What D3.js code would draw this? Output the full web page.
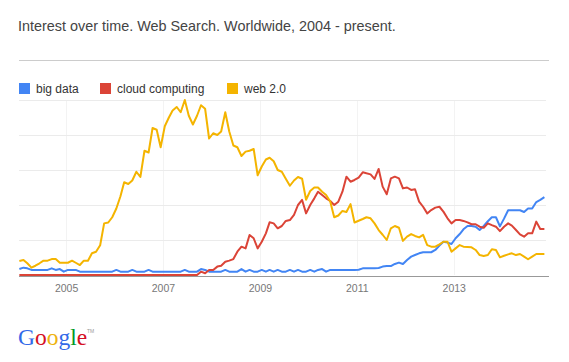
<!DOCTYPE html>
<html>
<head>
<meta charset="utf-8">
<script src="https://cdn.jsdelivr.net/npm/d3@7"></script>
<style>
body { margin: 0; background: #fff; }
svg { display: block; font-family: Arial, "Liberation Sans", sans-serif; }
</style>
</head>
<body>
<svg id="chart" width="569" height="362"></svg>
<script>
// monthly interest, Jan 2004 .. Nov 2014
const seriesNames = ["big data", "cloud computing", "web 2.0"];
const seriesColors = ["#4285f4", "#db4437", "#f4b400"];

const bigData = [
  3.4, 4.2, 3.8, 2.9, 2.9, 2.9, 2.9, 2.9, 3.8, 2.9, 3.4, 1.9, 2.9, 2.9, 2.9, 1.9,
  1.9, 1.9, 1.9, 1.9, 1.9, 1.9, 1.9, 1.9, 2.9, 1.9, 1.9, 1.9, 2.9, 1.9, 1.9, 1.9,
  2.9, 1.9, 1.9, 1.9, 1.9, 1.9, 1.9, 1.9, 1.9, 2.9, 1.9, 1.9, 1.9, 3.4, 2.9, 1.9,
  1.9, 1.9, 1.9, 2.9, 1.9, 1.9, 1.9, 3.4, 1.9, 2.9, 1.9, 1.9, 2.9, 1.9, 2.9, 1.9,
  2.9, 1.9, 1.9, 2.9, 1.9, 2.9, 1.9, 1.9, 2.9, 1.9, 2.9, 3.4, 1.9, 2.9, 2.9, 2.9,
  2.9, 2.9, 2.9, 2.9, 3, 3.8, 3.8, 3.8, 3.8, 4, 4.8, 5.1, 5.1, 6.3, 7.1, 6.3,
  8.6, 10.5, 11.4, 12.4, 13, 13, 13, 14.3, 16.8, 19, 18.5, 17.7, 21, 23.4, 26.1, 28,
  28, 27.6, 25.7, 28, 30.7, 33, 33, 27.8, 32.2, 37, 37, 37, 37, 36, 38, 38,
  41.7, 42.9, 44.5
];

const cloudComputing = [
  0, 0, 0, 0, 0, 0, 0, 0, 0, 0, 0, 0, 0, 0, 0, 0,
  0, 0, 0, 0, 0, 0, 0, 0, 0, 0, 0, 0, 0, 0, 0, 0,
  0, 0, 0, 0, 0, 0, 0, 0, 0, 0, 0, 0, 0, 1.9, 1, 2.9,
  2.9, 4.8, 5.3, 7.6, 8.2, 9.1, 13.3, 16.2, 15.2, 22.9, 21, 15.2, 19, 23.8, 30.1, 29.5,
  26.7, 28, 30.9, 31.4, 34.3, 40, 42.9, 35.2, 40, 43.8, 47.6, 45.7, 43.8, 42.3, 40, 41.9,
  47.6, 56.2, 53.3, 54.3, 55.6, 58.7, 58.1, 57.5, 54.9, 60.6, 50.5, 46.1, 55.2, 56.2, 55.2, 49.5,
  50, 48.6, 49, 41.9, 39, 35.2, 37.1, 38.5, 39, 36.2, 32.4, 29.5, 31.4, 31.4, 30.9, 30.1,
  29, 29, 27.6, 27, 29.5, 28.5, 27.6, 25.1, 27.6, 29.5, 28.2, 25.7, 23.2, 21.9, 23.8, 23.8,
  30.5, 26.3, 26.3
];

const web20 = [
  8, 8.6, 6.7, 4.2, 5.3, 6.7, 8.2, 8.2, 9.1, 9.1, 7, 7, 7, 8.2, 7, 5.7,
  8.2, 8.2, 12.4, 13.3, 17, 29.5, 30, 33, 38, 45, 53, 52, 54, 59, 56, 71,
  70, 84, 83, 73, 85, 90, 94, 96, 93, 100, 91, 86, 91, 97, 95, 78,
  81, 80, 82, 93, 82, 74, 73, 68, 70.5, 71, 72, 57, 62, 66, 67, 65,
  60, 59, 55, 51, 54, 56, 55, 43, 48, 50, 50, 47.6, 45.7, 42, 33, 34,
  36.6, 36, 40.5, 30, 31, 32, 33, 32.4, 29.5, 25.7, 23, 20, 26.7, 28, 27, 19.5,
  21.9, 23.4, 22.3, 21.5, 22.9, 17.1, 16.2, 16.2, 17.5, 19, 19, 13.3, 15.2, 17.1, 16.2, 16,
  15.8, 14.3, 11.4, 10.9, 11.4, 14.7, 14.3, 10.1, 11, 11.8, 12.4, 11.4, 12, 10.5, 9, 10.5,
  12, 12, 12
];

const yearTicks = ["2005", "2007", "2009", "2011", "2013"];
const gridValues = [20, 40, 60, 80, 100];

const svg = d3.select('#chart');
const plotLeft = 19, plotRight = 546, plotTop = 100, plotBottom = 275;

const months = d3.timeMonth.range(new Date(2004, 0, 1), new Date(2014, 11, 1));
const x = d3.scaleTime()
  .domain([new Date(2004, 0, 1), new Date(2014, 11, 1)])
  .range([17.5, 546.5]);
const y = d3.scaleLinear().domain([0, 100]).range([plotBottom, plotTop]);

// title + rule
svg.append('text')
  .attr('x', 18).attr('y', 31)
  .attr('font-size', 14.4).attr('fill', '#444')
  .text('Interest over time. Web Search. Worldwide, 2004 - present.');
svg.append('line')
  .attr('x1', 19).attr('x2', 549).attr('y1', 60.5).attr('y2', 60.5)
  .attr('stroke', '#ccc');

// legend
const legendX = [19, 100, 227];
const legend = svg.append('g').selectAll('g')
  .data(seriesNames)
  .enter().append('g')
  .attr('transform', (d, i) => `translate(${legendX[i]},83)`);
legend.append('rect')
  .attr('width', 11).attr('height', 11)
  .attr('fill', (d, i) => seriesColors[i]);
legend.append('text')
  .attr('x', 17).attr('y', 10)
  .attr('font-size', 12).attr('fill', '#333')
  .text(d => d);

// faint year lines
const tickDates = yearTicks.map(t => new Date(+t, 0, 1));
svg.append('g').selectAll('line')
  .data(tickDates)
  .enter().append('line')
  .attr('x1', d => Math.round(x(d)) + 0.5).attr('x2', d => Math.round(x(d)) + 0.5)
  .attr('y1', plotTop).attr('y2', plotBottom)
  .attr('stroke', '#f3f3f3');

// horizontal grid
svg.append('g')
  .attr('transform', `translate(${plotLeft},0)`)
  .call(d3.axisLeft(y).tickValues(gridValues).tickSize(-(plotRight - plotLeft)).tickFormat(''))
  .call(g => g.select('.domain').remove())
  .call(g => g.selectAll('.tick line').attr('stroke', '#ebebeb'));

// x axis
const xAxis = svg.append('g')
  .attr('transform', `translate(0,${plotBottom + 1})`)
  .call(d3.axisBottom(x).tickValues(tickDates).tickSize(0).tickPadding(9)
    .tickFormat((d, i) => yearTicks[i]));
xAxis.select('.domain').remove();
xAxis.selectAll('text').attr('font-size', 10.5).attr('fill', '#777')
  .attr('font-family', 'Arial, "Liberation Sans", sans-serif');
svg.append('line')
  .attr('x1', 19).attr('x2', 549).attr('y1', plotBottom + 1.5).attr('y2', plotBottom + 1.5)
  .attr('stroke', '#999');

// lines
const line = d3.line()
  .x((d, i) => x(d3.timeDay.offset(months[i], 14)))
  .y(d => y(d));
[bigData, cloudComputing, web20].forEach((vals, k) => {
  svg.append('path')
    .datum(vals)
    .attr('fill', 'none')
    .attr('stroke', seriesColors[k])
    .attr('stroke-width', 2)
    .attr('stroke-linejoin', 'round')
    .attr('d', line);
});

// google mark
const logo = svg.append('text')
  .attr('x', 18).attr('y', 345)
  .attr('font-family', '"Liberation Serif", "DejaVu Serif", serif')
  .attr('font-size', 23.5);
const logoLetters = ["G", "o", "o", "g", "l", "e"];
const logoColors = ["#3369e8", "#d50f25", "#eeb211", "#3369e8", "#009925", "#d50f25"];
logo.selectAll('tspan')
  .data(logoLetters)
  .enter().append('tspan')
  .attr('fill', (d, i) => logoColors[i])
  .text(d => d);
svg.append('text')
  .attr('x', 87).attr('y', 333)
  .attr('font-size', 5).attr('fill', '#999')
  .text('TM');
</script>
</body>
</html>
